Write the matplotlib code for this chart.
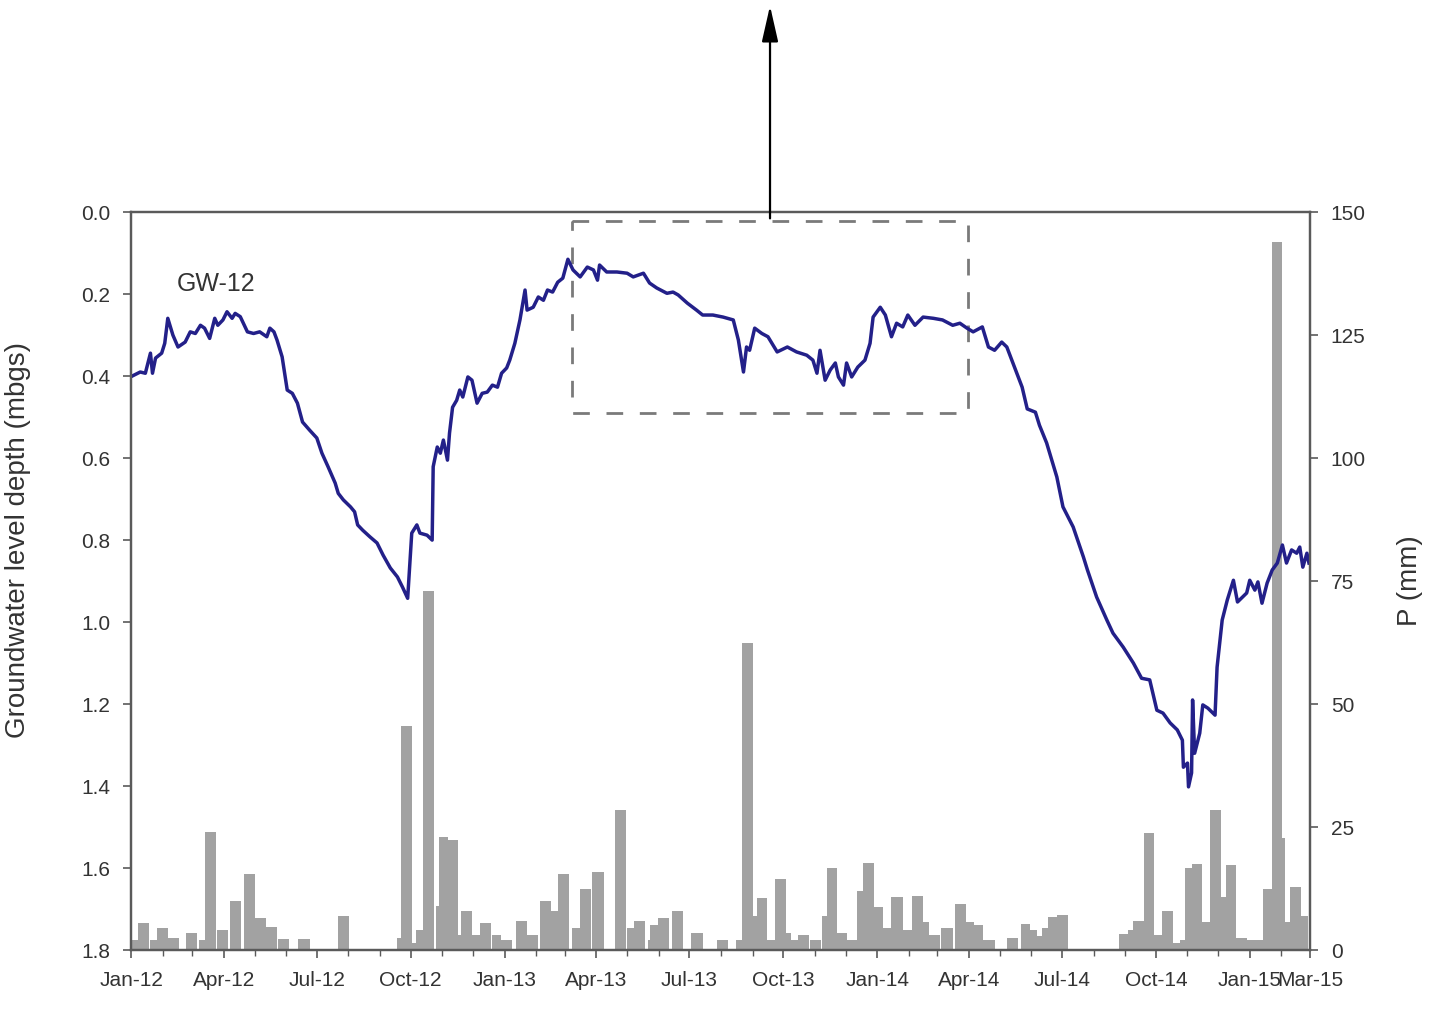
import matplotlib
matplotlib.use('Agg')
import matplotlib.pyplot as plt
import matplotlib.dates as mdates
from matplotlib.patches import Rectangle
import numpy as np
import pandas as pd

# groundwater level depth, GW-12 (day of record counted from 1 Jan 2012, depth in mbgs)
gw_day = [1, 9, 14, 19, 21, 24, 30, 33, 36, 41,
          46, 53, 58, 63, 68, 72, 77, 82, 85, 90,
          94, 99, 102, 107, 114, 120, 126, 133, 136, 140,
          143, 148, 153, 158, 163, 168, 175, 182, 187, 193,
          200, 203, 208, 215, 219, 222, 227, 234, 241, 247,
          254, 261, 266, 271, 275, 280, 283, 290, 295, 296,
          300, 303, 306, 310, 312, 315, 319, 322, 325, 330,
          334, 339, 344, 349, 354, 359, 363, 368, 371, 376,
          381, 386, 388, 394, 399, 404, 408, 413, 418, 423,
          428, 433, 440, 447, 453, 457, 459, 466, 476, 486,
          492, 502, 508, 515, 525, 531, 536, 545, 554, 560,
          570, 580, 590, 595, 600, 603, 606, 611, 618, 624,
          633, 643, 652, 662, 668, 672, 675, 680, 685, 690,
          693, 698, 701, 706, 712, 719, 724, 727, 734, 739,
          745, 750, 756, 761, 768, 776, 786, 795, 805, 812,
          819, 825, 834, 840, 846, 853, 858, 864, 873, 878,
          886, 890, 897, 907, 913, 923, 933, 937, 946, 956,
          962, 972, 982, 990, 998, 1001, 1005, 1011, 1018, 1025,
          1030, 1031, 1035, 1036, 1039, 1040, 1042, 1047, 1050, 1055,
          1062, 1064, 1069, 1074, 1080, 1084, 1093, 1096, 1101, 1104,
          1108, 1113, 1118, 1123, 1128, 1132, 1137, 1142, 1145, 1148,
          1152, 1154]
gw_depth = [0.400, 0.390, 0.393, 0.344, 0.393, 0.356, 0.344, 0.320, 0.259, 0.300,
            0.329, 0.317, 0.292, 0.296, 0.276, 0.283, 0.308, 0.259, 0.276, 0.263,
            0.243, 0.259, 0.247, 0.255, 0.292, 0.296, 0.292, 0.304, 0.283, 0.292,
            0.312, 0.353, 0.434, 0.442, 0.466, 0.512, 0.532, 0.551, 0.588, 0.621,
            0.661, 0.686, 0.702, 0.719, 0.731, 0.763, 0.776, 0.792, 0.807, 0.837,
            0.868, 0.890, 0.915, 0.942, 0.783, 0.763, 0.783, 0.788, 0.800, 0.621,
            0.573, 0.588, 0.556, 0.605, 0.539, 0.476, 0.459, 0.434, 0.451, 0.402,
            0.410, 0.466, 0.442, 0.439, 0.422, 0.427, 0.393, 0.380, 0.361, 0.320,
            0.263, 0.190, 0.239, 0.232, 0.207, 0.215, 0.190, 0.195, 0.171, 0.161,
            0.115, 0.141, 0.158, 0.134, 0.141, 0.166, 0.129, 0.146, 0.146, 0.149,
            0.158, 0.149, 0.173, 0.185, 0.198, 0.195, 0.202, 0.222, 0.239, 0.251,
            0.251, 0.256, 0.263, 0.312, 0.390, 0.329, 0.337, 0.283, 0.296, 0.304,
            0.341, 0.329, 0.341, 0.349, 0.361, 0.393, 0.337, 0.410, 0.385, 0.368,
            0.402, 0.422, 0.368, 0.402, 0.378, 0.361, 0.320, 0.256, 0.232, 0.251,
            0.304, 0.271, 0.280, 0.251, 0.276, 0.256, 0.259, 0.263, 0.276, 0.271,
            0.283, 0.292, 0.280, 0.329, 0.337, 0.317, 0.329, 0.368, 0.427, 0.480,
            0.488, 0.520, 0.563, 0.646, 0.719, 0.768, 0.841, 0.873, 0.939, 0.995,
            1.027, 1.061, 1.100, 1.137, 1.141, 1.173, 1.215, 1.222, 1.246, 1.263,
            1.288, 1.354, 1.344, 1.402, 1.368, 1.190, 1.320, 1.271, 1.202, 1.210,
            1.227, 1.110, 0.995, 0.946, 0.898, 0.951, 0.929, 0.898, 0.922, 0.902,
            0.954, 0.905, 0.873, 0.856, 0.812, 0.856, 0.824, 0.832, 0.817, 0.866,
            0.832, 0.856]

# precipitation totals (mm), start date of each period
p_dates = ['2012-01-02', '2012-01-08', '2012-01-20', '2012-01-26', '2012-02-06',
           '2012-02-24', '2012-03-08', '2012-03-13', '2012-03-25', '2012-04-07', '2012-04-21',
           '2012-05-01', '2012-05-12', '2012-05-24', '2012-06-13', '2012-07-22',
           '2012-09-18', '2012-09-21', '2012-10-02', '2012-10-06', '2012-10-13', '2012-10-26',
           '2012-10-29', '2012-11-07', '2012-11-16', '2012-11-19', '2012-11-30', '2012-12-08',
           '2012-12-20', '2012-12-28',
           '2013-01-12', '2013-01-23', '2013-02-05', '2013-02-15', '2013-02-22', '2013-03-08',
           '2013-03-16', '2013-03-28',
           '2013-04-19', '2013-05-01', '2013-05-08', '2013-05-21', '2013-05-23', '2013-05-31',
           '2013-06-14', '2013-07-03', '2013-07-28',
           '2013-08-16', '2013-08-22', '2013-09-01', '2013-09-05', '2013-09-15', '2013-09-23',
           '2013-10-04', '2013-10-09', '2013-10-15', '2013-10-27',
           '2013-11-08', '2013-11-13', '2013-11-23', '2013-12-02', '2013-12-12', '2013-12-18',
           '2013-12-29',
           '2014-01-07', '2014-01-15', '2014-01-26', '2014-02-04', '2014-02-15', '2014-02-21',
           '2014-03-05', '2014-03-18', '2014-03-29', '2014-04-06', '2014-04-15',
           '2014-05-08', '2014-05-22', '2014-05-31', '2014-06-07', '2014-06-11', '2014-06-17',
           '2014-06-26',
           '2014-08-26', '2014-09-04', '2014-09-09', '2014-09-19', '2014-09-29', '2014-10-07',
           '2014-10-18', '2014-10-25', '2014-10-30', '2014-11-05', '2014-11-15', '2014-11-23',
           '2014-12-04', '2014-12-09', '2014-12-19', '2014-12-29',
           '2015-01-04', '2015-01-14', '2015-01-23', '2015-02-02', '2015-02-05', '2015-02-09',
           '2015-02-20']
p_mm = [2.0, 5.5, 2.0, 4.5, 2.5,
        3.5, 2.0, 24.0, 4.0, 10.0, 15.5, 6.5, 4.7, 2.3, 2.3, 7.0,
        2.5, 45.5, 1.5, 4.0, 73.0, 9.0, 23.0, 22.4, 3.0, 8.0, 3.0, 5.5, 3.0, 2.0,
        6.0, 3.0, 10.0, 8.0, 15.5, 4.5, 12.5, 15.8,
        28.5, 4.5, 6.0, 2.0, 5.0, 6.5, 8.0, 3.5, 2.0,
        2.0, 62.5, 7.0, 10.5, 2.0, 14.4, 3.5, 2.0, 3.0, 2.0,
        7.0, 16.7, 3.5, 2.0, 12.0, 17.7, 8.7,
        4.5, 10.8, 4.0, 11.0, 5.7, 3.0, 4.4, 9.3, 5.7, 5.0, 2.0,
        2.5, 5.3, 4.0, 2.8, 4.5, 6.8, 7.1,
        3.3, 4.0, 6.0, 23.8, 3.0, 8.0, 1.5, 2.0, 16.6, 17.5, 5.7, 28.5, 10.8, 17.3, 2.5, 2.0,
        2.0, 12.4, 144.0, 22.7, 5.7, 12.8, 7.0]

tick_dates = ['2012-01-01', '2012-04-01', '2012-07-01', '2012-10-01', '2013-01-01',
              '2013-04-01', '2013-07-01', '2013-10-01', '2014-01-01', '2014-04-01',
              '2014-07-01', '2014-10-01', '2015-01-01', '2015-03-01']
tick_labels = ['Jan-12', 'Apr-12', 'Jul-12', 'Oct-12', 'Jan-13', 'Apr-13', 'Jul-13',
               'Oct-13', 'Jan-14', 'Apr-14', 'Jul-14', 'Oct-14', 'Jan-15', 'Mar-15']

plt.rcParams['font.family'] = ['Liberation Sans', 'DejaVu Sans']

start = pd.Timestamp('2012-01-01')
gw_dt = start + pd.to_timedelta(gw_day, unit='D')
p_dt = pd.to_datetime(p_dates)
gaps = np.diff(p_dt).astype('timedelta64[D]').astype(float)
bar_w = np.append(np.minimum(gaps, 11), 7)

fig = plt.figure(figsize=(14.37, 10.15), dpi=100)
ax = fig.add_axes([0.0912, 0.064, 0.8204, 0.727])
ax2 = ax.twinx()

ax2.bar(p_dt, p_mm, width=bar_w, align='edge', color='#a2a2a2', linewidth=0)
ax2.set_ylim(0, 150)
ax2.set_yticks(np.arange(0, 151, 25))

ax.set_zorder(ax2.get_zorder() + 1)
ax.patch.set_visible(False)
ax.plot(gw_dt, gw_depth, color='#232089', lw=2.5)
ax.set_ylim(1.8, 0)
ax.set_yticks(np.arange(0, 1.81, 0.2))
ax.yaxis.set_major_formatter(plt.FormatStrFormatter('%.1f'))
ax.set_xlim(start, pd.Timestamp('2015-03-01'))
ax.set_xticks(pd.to_datetime(tick_dates))
ax.set_xticklabels(tick_labels)
ax.xaxis.set_minor_locator(mdates.MonthLocator())

ax.text(pd.Timestamp('2012-02-15'), 0.175, 'GW-12', fontsize=18, color='#333333', va='center')

# zoom window and arrow
box_x0 = mdates.date2num(pd.Timestamp('2013-03-08'))
box_x1 = mdates.date2num(pd.Timestamp('2014-03-31'))
ax.add_patch(Rectangle((box_x0, 0.022), box_x1 - box_x0, 0.468, fill=False,
                       ec='#7a7a7a', lw=2, ls=(0, (6, 6))))
arrow_x = pd.Timestamp('2013-09-18')
ax.annotate('', xy=(arrow_x, -0.51), xytext=(arrow_x, 0.022),
            arrowprops=dict(arrowstyle='-|>,head_length=1.1,head_width=0.25',
                            mutation_scale=20, color='black', lw=1.6),
            annotation_clip=False)

for a in (ax, ax2):
    for s in a.spines.values():
        s.set_color('#5a5a5a')
        s.set_linewidth(1.6)
ax.tick_params(axis='both', which='major', direction='out', length=6, width=1.2,
               color='#5a5a5a', labelsize=15, labelcolor='#333333', pad=9)
ax.tick_params(axis='x', which='minor', direction='out', length=4, width=1,
               color='#5a5a5a')
ax2.tick_params(axis='y', direction='out', length=6, width=1.2, color='#5a5a5a',
                labelsize=15, labelcolor='#333333', pad=9)

ax.set_ylabel('Groundwater level depth (mbgs)', fontsize=20, color='#333333')
ax.yaxis.set_label_coords(-0.085, 0.556)
ax2.set_ylabel('P (mm)', fontsize=20, color='#333333')
ax2.yaxis.set_label_coords(1.074, 0.5)

fig.savefig('out.png', dpi=100, facecolor='white')
